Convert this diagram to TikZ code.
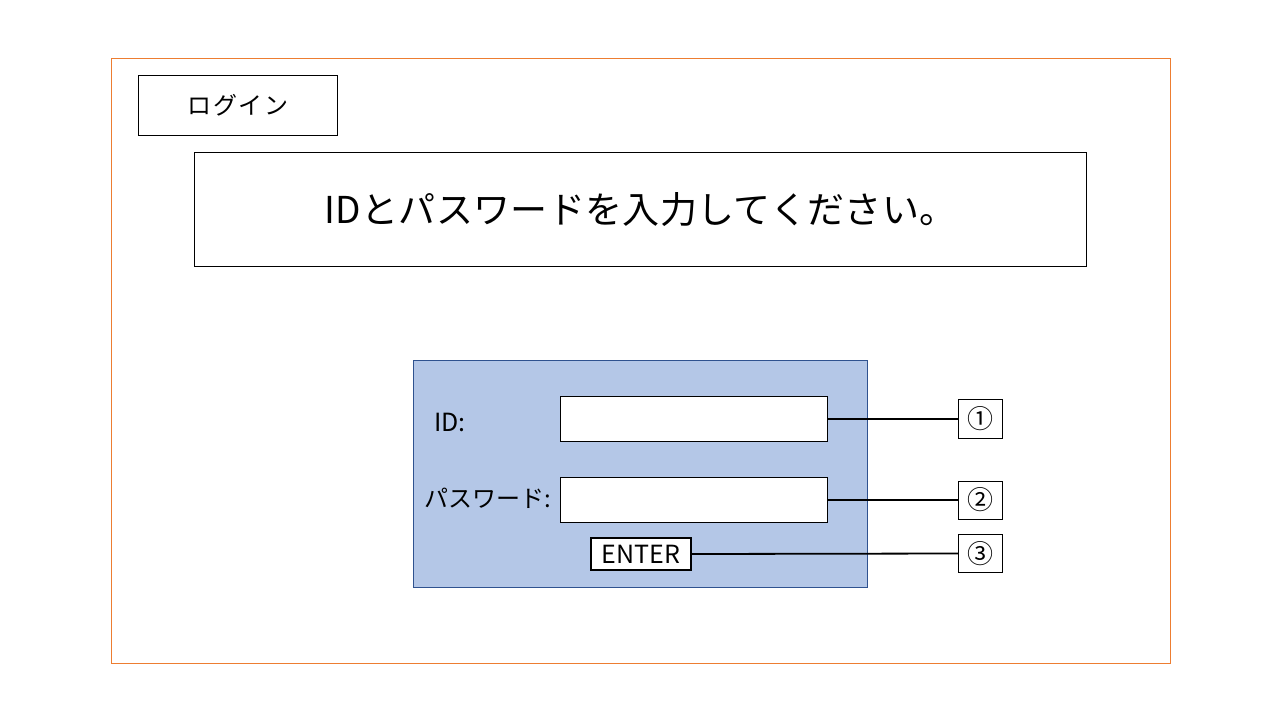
\documentclass[tikz,border=0pt]{standalone}
\usepackage{fontspec}
\setmainfont{Noto Sans CJK JP}
\begin{document}
\begin{tikzpicture}[x=1pt,y=-1pt,
  box/.style={draw=black,line width=1pt,fill=white,inner sep=0pt,anchor=north west},
  lbl/.style={inner sep=0pt},
  numbox/.style={box,minimum width=44pt,font=\fontsize{26}{30}\selectfont},
  conn/.style={draw=black,line width=1.8pt}]
\useasboundingbox[fill=white] (0,0) rectangle (1280,720);
\draw[draw={rgb,255:red,237;green,125;blue,49},line width=1pt] (111,58) rectangle (1170,663);
\node[box,minimum width=199pt,minimum height=60pt,font=\fontsize{24}{28}\selectfont\addfontfeature{LetterSpace=6}] (login) at (138,75) {ログイン};
\node[box,minimum width=892pt,minimum height=114pt,font=\fontsize{37}{42}\selectfont\addfontfeature{LetterSpace=1}] (msg) at (194,152) {IDとパスワードを入力してください。};
\node[draw={rgb,255:red,47;green,82;blue,143},fill={rgb,255:red,180;green,199;blue,231},line width=1pt,inner sep=0pt,anchor=north west,minimum width=454pt,minimum height=227pt] (panel) at (413,360) {};
\node[box,minimum width=267pt,minimum height=45pt] (idf) at (560,396) {};
\node[box,minimum width=267pt,minimum height=45pt] (pwf) at (560,477) {};
\node[box,line width=2pt,minimum width=100pt,minimum height=32pt,font=\fontsize{25}{28}\selectfont] (enter) at (590,537) {ENTER};
\node[lbl,anchor=west,font=\fontsize{25}{28}\selectfont] (idl) at (434,422) {ID:};
\node[lbl,anchor=west,font=\fontsize{24}{28}\selectfont] (pwl) at (424,498) {パスワード:};
\node[numbox,minimum height=39pt] (n1) at (958,399) {①};
\node[numbox,minimum height=38pt] (n2) at (958,480.5) {②};
\node[numbox,minimum height=38pt] (n3) at (958,534) {③};
\draw[conn] (idf.east) -- (n1.west);
\draw[conn] (pwf.east) -- (n2.west);
\draw[conn] (enter.east) -- (n3.west);
\end{tikzpicture}
\end{document}
